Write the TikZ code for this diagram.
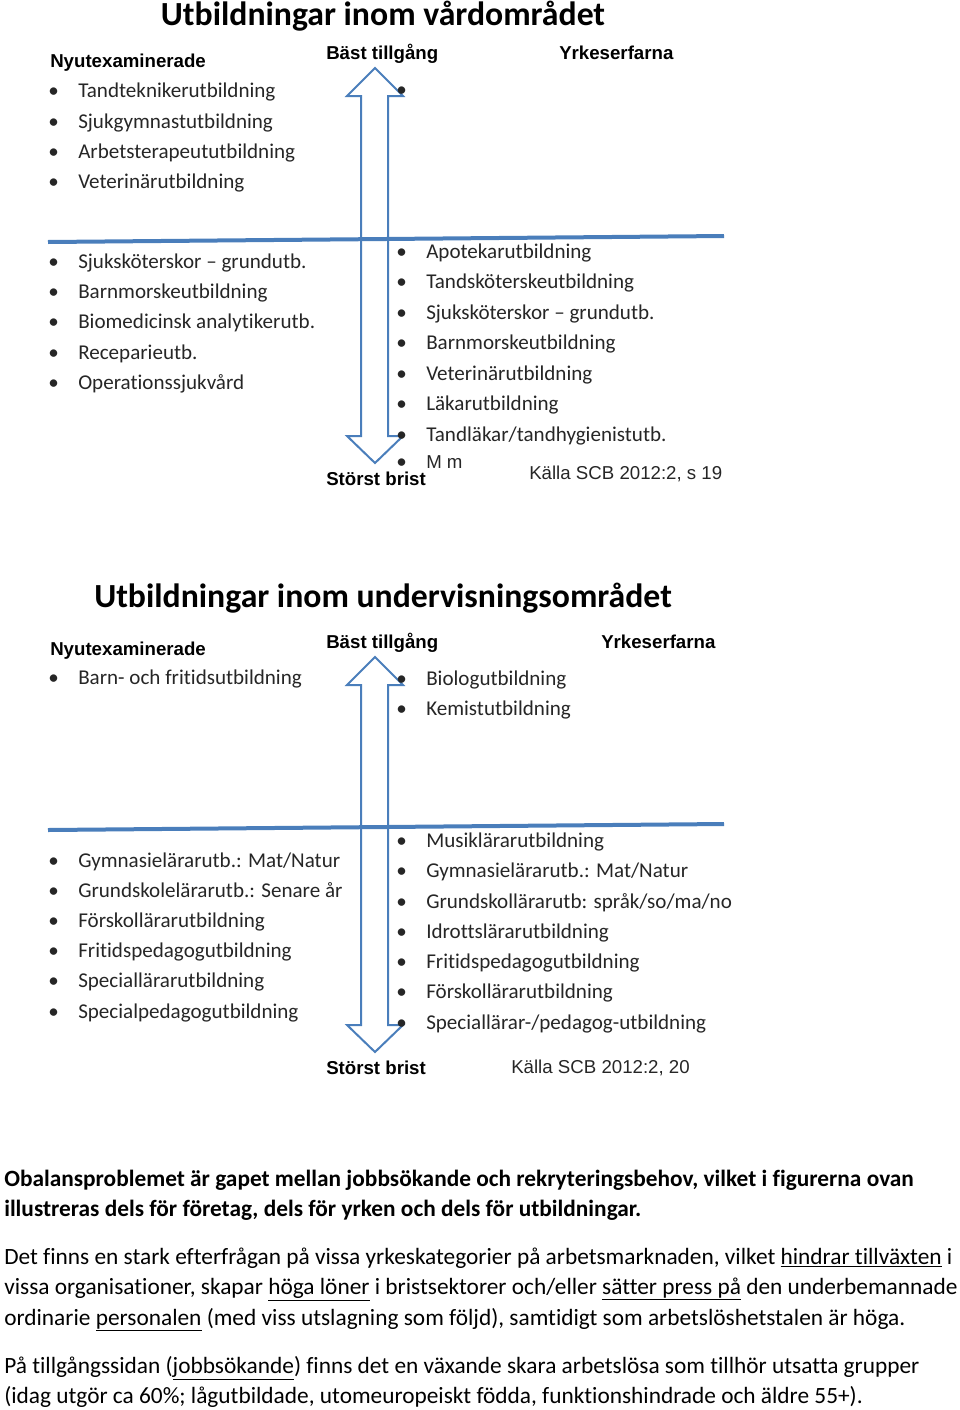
\documentclass[tikz,border=0pt]{standalone}
\usepackage{fontspec}
\setmainfont{Carlito}[Ligatures=NoCommon]
\newfontfamily\arialfont{Liberation Sans}
\usetikzlibrary{positioning}
\definecolor{axisblue}{HTML}{4A7EBB}
\newcommand{\blt}{\makebox[22.5pt][l]{\textbullet}}

\begin{document}
\begin{tikzpicture}[x=0.75pt,y=-0.75pt,
  item/.style={anchor=base west,inner sep=0pt,text=black!85,font=\fontsize{15.8}{18}\selectfont},
  head/.style={anchor=base west,inner sep=0pt,font=\arialfont\bfseries\fontsize{14}{16}\selectfont},
  src/.style={anchor=base west,inner sep=0pt,text=black!85,font=\arialfont\fontsize{14}{16}\selectfont},
  title/.style={anchor=base,inner sep=0pt,font=\bfseries\fontsize{25.3}{28}\selectfont},
  para/.style={anchor=base west,inner sep=0pt,font=\fontsize{17.5}{20}\selectfont},
  split/.style={draw=axisblue,line width=3pt},
  bigarrow/.style={draw=axisblue,line width=1.5pt,line join=miter}]
  \useasboundingbox (0,0) rectangle (960,1410);

  % Health care chart
  \node[title] (t1) at (383,25) {Utbildningar inom vårdområdet};
  \node[head] (new1) at (50,67) {Nyutexaminerade};
  \node[head] (best1) at (326,59) {Bäst tillgång};
  \node[head] (exp1) at (559,59) {Yrkeserfarna};

  % Double block arrow and dividing line
  \draw[bigarrow] (361,96) -- (347,96) -- (375,68) -- (403,96) -- (388,96) -- (388,436)
    -- (403,436) -- (375,463) -- (347,436) -- (361,436) -- cycle;
  \draw[split] (48,242) -- (724,236);

  % Upper left
  \node[item] (a1) at (48,97) {\blt Tandteknikerutbildning};
  \node[item] (a2) at (48,128) {\blt Sjukgymnastutbildning};
  \node[item] (a3) at (48,158) {\blt Arbetsterapeututbildning};
  \node[item] (a4) at (48,188) {\blt Veterinärutbildning};
  % Upper right
  \node[item] (b0) at (396,96) {\textbullet};

  % Lower left
  \node[item] (c1) at (48,268) {\blt Sjuksköterskor – grundutb.};
  \node[item] (c2) at (48,298) {\blt Barnmorskeutbildning};
  \node[item] (c3) at (48,328) {\blt Biomedicinsk analytikerutb.};
  \node[item] (c4) at (48,359) {\blt Receparieutb.};
  \node[item] (c5) at (48,389) {\blt Operationssjukvård};

  % Lower right
  \node[item] (d1) at (396,258) {\blt Apotekarutbildning};
  \node[item] (d2) at (396,288) {\blt Tandsköterskeutbildning};
  \node[item] (d3) at (396,319) {\blt Sjuksköterskor – grundutb.};
  \node[item] (d4) at (396,349) {\blt Barnmorskeutbildning};
  \node[item] (d5) at (396,380) {\blt Veterinärutbildning};
  \node[item] (d6) at (396,410) {\blt Läkarutbildning};
  \node[item] (d7) at (396,441) {\blt Tandläkar/tandhygienistutb.};
  \node[item] (d8) at (396,468) {\blt\arialfont\fontsize{14}{16}\selectfont M m};

  \node[head] (worst1) at (326,485) {Störst brist};
  \node[src] (ref1) at (529,479) {Källa SCB 2012:2, s 19};

  % Teaching chart
  \node[title] (t2) at (383,607) {Utbildningar inom undervisningsområdet};
  \node[head] (new2) at (50,655) {Nyutexaminerade};
  \node[head] (best2) at (326,648) {Bäst tillgång};
  \node[head] (exp2) at (601,648) {Yrkeserfarna};

  \draw[bigarrow] (361,685) -- (347,685) -- (375,657) -- (403,685) -- (388,685) -- (388,1025)
    -- (403,1025) -- (375,1052) -- (347,1025) -- (361,1025) -- cycle;
  \draw[split] (48,830) -- (724,824);

  \node[item] (e1) at (48,684) {\blt Barn- och fritidsutbildning};
  \node[item] (f1) at (396,685) {\blt Biologutbildning};
  \node[item] (f2) at (396,715) {\blt Kemistutbildning};

  \node[item] (g1) at (48,867) {\blt Gymnasielärarutb.: Mat/Natur};
  \node[item] (g2) at (48,897) {\blt Grundskolelärarutb.: Senare år};
  \node[item] (g3) at (48,927) {\blt Förskollärarutbildning};
  \node[item] (g4) at (48,957) {\blt Fritidspedagogutbildning};
  \node[item] (g5) at (48,987) {\blt Speciallärarutbildning};
  \node[item] (g6) at (48,1018) {\blt Specialpedagogutbildning};

  \node[item] (h1) at (396,847) {\blt Musiklärarutbildning};
  \node[item] (h2) at (396,877) {\blt Gymnasielärarutb.: Mat/Natur};
  \node[item] (h3) at (396,908) {\blt Grundskollärarutb: språk/so/ma/no};
  \node[item] (h4) at (396,938) {\blt Idrottslärarutbildning};
  \node[item] (h5) at (396,968) {\blt Fritidspedagogutbildning};
  \node[item] (h6) at (396,998) {\blt Förskollärarutbildning};
  \node[item] (h7) at (396,1029) {\blt Speciallärar-/pedagog-utbildning};

  \node[head] (worst2) at (326,1074) {Störst brist};
  \node[src] (ref2) at (511,1073) {Källa SCB 2012:2, 20};

  % Text below the charts
  \node[para,font=\bfseries\fontsize{17.5}{20}\selectfont] (p1) at (4,1186) {Obalansproblemet är gapet mellan jobbsökande och rekryteringsbehov, vilket i figurerna ovan};
  \node[para,font=\bfseries\fontsize{17.5}{20}\selectfont] (p2) at (4,1216) {illustreras dels för företag, dels för yrken och dels för utbildningar.};
  \node[para] (q1) at (4,1264) {Det finns en stark efterfrågan på vissa yrkeskategorier på arbetsmarknaden, vilket \underline{hindrar tillväxten} i};
  \node[para] (q2) at (4,1294) {vissa organisationer, skapar \underline{höga löner} i bristsektorer och/eller \underline{sätter press på} den underbemannade};
  \node[para] (q3) at (4,1325) {ordinarie \underline{personalen} (med viss utslagning som följd), samtidigt som arbetslöshetstalen är höga.};
  \node[para] (r1) at (4,1373) {På tillgångssidan (\underline{jobbsökande}) finns det en växande skara arbetslösa som tillhör utsatta grupper};
  \node[para] (r2) at (4,1403) {(idag utgör ca 60\%; lågutbildade, utomeuropeiskt födda, funktionshindrade och äldre 55+).};
\end{tikzpicture}
\end{document}
